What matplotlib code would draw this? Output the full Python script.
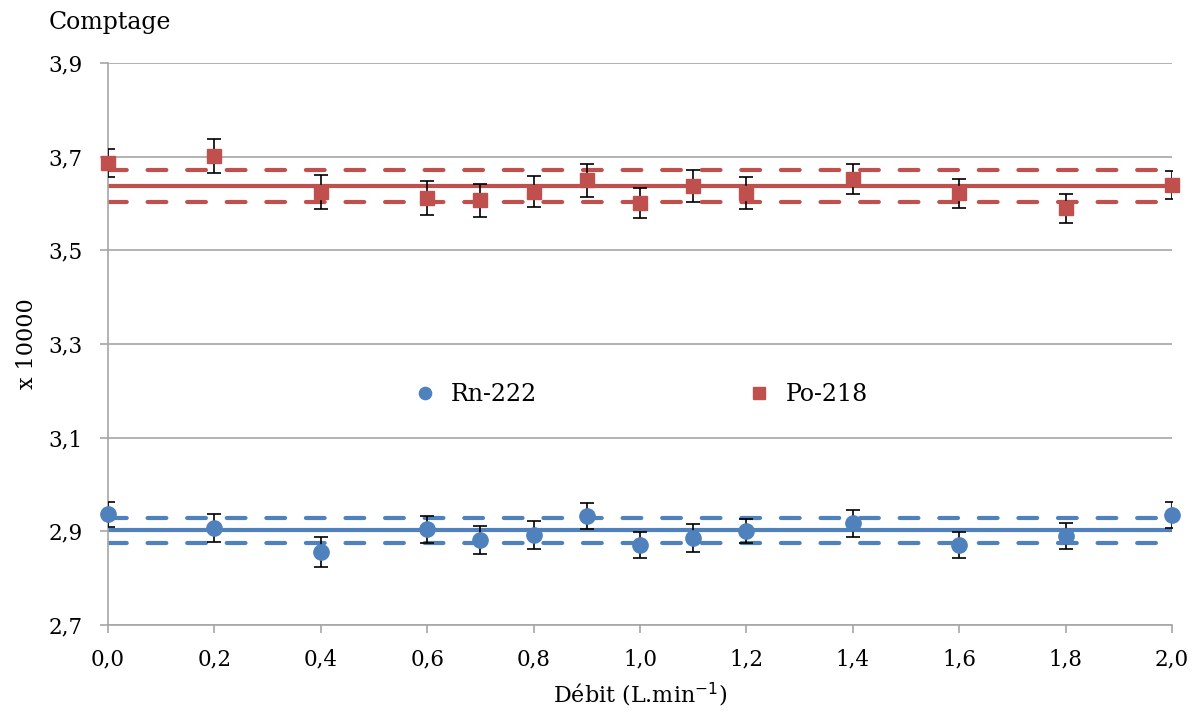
import matplotlib.pyplot as plt
from matplotlib.ticker import FuncFormatter, MultipleLocator

# flow rates (L/min)
debit = [0.0, 0.2, 0.4, 0.6, 0.7, 0.8, 0.9, 1.0, 1.1, 1.2, 1.4, 1.6, 1.8, 2.0]

# counts (x 10000)
rn222 = [2.936, 2.907, 2.856, 2.904, 2.882, 2.892, 2.932, 2.871, 2.886, 2.901, 2.917, 2.871, 2.890, 2.935]
rn222_err = [0.027, 0.030, 0.033, 0.029, 0.030, 0.030, 0.028, 0.028, 0.030, 0.025, 0.029, 0.027, 0.028, 0.027]
po218 = [3.686, 3.701, 3.625, 3.612, 3.607, 3.625, 3.650, 3.601, 3.637, 3.622, 3.652, 3.622, 3.590, 3.640]
po218_err = [0.030, 0.036, 0.036, 0.037, 0.035, 0.033, 0.035, 0.032, 0.034, 0.034, 0.032, 0.031, 0.031, 0.030]

rn_mean, rn_band = 2.902, 0.026
po_mean, po_band = 3.637, 0.034

yticks = [2.7, 2.9, 3.1, 3.3, 3.5, 3.7, 3.9]

blue = '#4F81BD'
red = '#C0504D'

plt.rcParams['font.family'] = ['DejaVu Serif']

fig = plt.figure(figsize=(11.97, 7.13), dpi=100)
ax = fig.add_axes([0.0902, 0.1234, 0.8889, 0.7882])

x_line = [debit[0], debit[-1]]
for mean, band, col in [(rn_mean, rn_band, blue), (po_mean, po_band, red)]:
    ax.plot(x_line, [mean, mean], color=col, lw=3, zorder=2)
    ax.plot(x_line, [mean + band] * 2, color=col, lw=3, ls=(0, (4.5, 5)), dash_capstyle='round', zorder=2)
    ax.plot(x_line, [mean - band] * 2, color=col, lw=3, ls=(0, (4.5, 5)), dash_capstyle='round', zorder=2)

ax.errorbar(debit, rn222, yerr=rn222_err, fmt='none', ecolor='black', elinewidth=1.2, capsize=5, capthick=1.2, zorder=3)
ax.errorbar(debit, po218, yerr=po218_err, fmt='none', ecolor='black', elinewidth=1.2, capsize=5, capthick=1.2, zorder=3)
ax.plot(debit, rn222, 'o', color=blue, ms=11, ls='none', label='Rn-222', zorder=4, clip_on=False)
ax.plot(debit, po218, 's', color=red, ms=10, ls='none', label='Po-218', zorder=4, clip_on=False)

ax.set_xlim(0, 2.0)
ax.set_ylim(2.7, 3.9)
ax.xaxis.set_major_locator(MultipleLocator(0.2))
ax.set_yticks(yticks)
fmt = FuncFormatter(lambda v, p: f'{v:.1f}'.replace('.', ','))
ax.xaxis.set_major_formatter(fmt)
ax.yaxis.set_major_formatter(fmt)
ax.grid(axis='y', color='#A6A6A6', lw=1.2)
ax.set_axisbelow(True)
for s in ['top', 'right']:
    ax.spines[s].set_visible(False)
for s in ['left', 'bottom']:
    ax.spines[s].set_color('#A6A6A6')
    ax.spines[s].set_linewidth(1.2)
ax.tick_params(axis='both', colors='#A6A6A6', labelcolor='black', labelsize=15.5, length=6, width=1.2)
ax.tick_params(axis='y', pad=12)
ax.tick_params(axis='x', pad=11)

ax.set_xlabel('Débit (L.min$^{-1}$)', fontsize=16, labelpad=7)
ax.set_ylabel('x 10000', fontsize=16, labelpad=8)
fig.text(0.092, 0.968, 'Comptage', fontsize=17, ha='center', va='center')

ax.legend(loc='center', bbox_to_anchor=(0.495, 0.41), ncol=2, frameon=False, fontsize=17,
          columnspacing=8.4, handletextpad=0.1, markerscale=0.8)

fig.savefig('out.png', dpi=100)
